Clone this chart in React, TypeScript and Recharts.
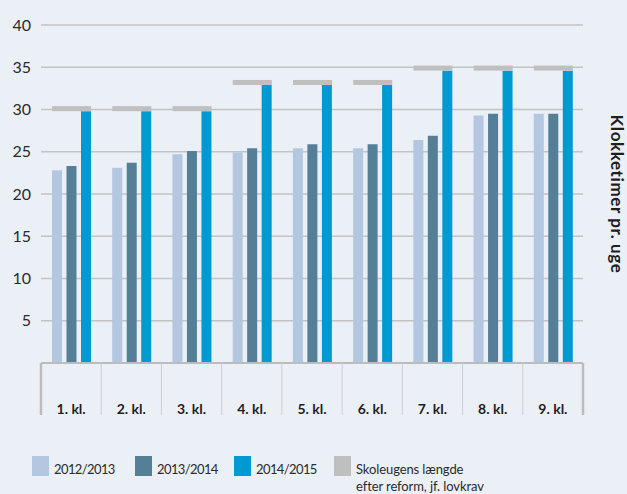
import React from 'react';
import { ComposedChart, Bar, Line, XAxis, YAxis, CartesianGrid } from 'recharts';

const categories = ['1. kl.', '2. kl.', '3. kl.', '4. kl.', '5. kl.', '6. kl.', '7. kl.', '8. kl.', '9. kl.'];
const s2012 = [22.8, 23.1, 24.7, 24.9, 25.4, 25.4, 26.4, 29.3, 29.5];
const s2013 = [23.3, 23.7, 25.1, 25.4, 25.9, 25.9, 26.9, 29.5, 29.5];
const s2014 = [29.8, 29.8, 29.8, 32.9, 32.9, 32.9, 34.6, 34.6, 34.6];
const krav = [30.1, 30.1, 30.1, 33.2, 33.2, 33.2, 34.9, 34.9, 34.9];
const yTicks = [5, 10, 15, 20, 25, 30, 35, 40];

const legendItems = [
  { label: '2012/2013', color: '#b3c7e1' },
  { label: '2013/2014', color: '#547f97' },
  { label: '2014/2015', color: '#009ad3' },
  { label: 'Skoleugens længde\nefter reform, jf. lovkrav', color: '#bfbfbf' },
];

const data = categories.map((name, i) => ({
  name,
  a: s2012[i],
  b: s2013[i],
  c: s2014[i],
  krav: krav[i],
}));

const W = 627;
const H = 420;
const margin = { top: 25, right: 44, bottom: 5, left: 0 };
const yAxisW = 41;
const bw = (W - margin.left - margin.right - yAxisW) / categories.length;
const font = 'Lato, "Open Sans", sans-serif';

const XTick = (props: any) => {
  const { x, y, payload, index } = props;
  const left = x - bw / 2;
  const edge = index === 0;
  return (
    <g>
      <line x1={left} x2={left} y1={y} y2={y + 52} stroke={edge ? '#bcbcbc' : '#cdcdcd'} strokeWidth={edge ? 2.5 : 1} />
      {index === categories.length - 1 && (
        <line x1={x + bw / 2} x2={x + bw / 2} y1={y} y2={y + 52} stroke="#bcbcbc" strokeWidth={2.5} />
      )}
      <text x={x} y={y + 51} textAnchor="middle" fill="#1e1e1e" fontSize={14} fontWeight={700} fontFamily={font}>
        {payload.value}
      </text>
    </g>
  );
};

const KravMark = (p: any) => {
  if (p.cx == null || p.cy == null) return null;
  return <rect key={p.index} x={p.cx - 19} y={p.cy - 2.5} width={39} height={5} fill="#bfbfbf" />;
};

export default function App() {
  return (
    <div
      style={{
        position: 'absolute',
        top: 0,
        left: 0,
        width: W,
        height: 494,
        background: '#ebf0f7',
        overflow: 'hidden',
        fontFamily: font,
      }}
    >
      <ComposedChart width={W} height={H} data={data} margin={margin} barSize={10} barGap={4.5}>
        <CartesianGrid vertical={false} stroke="#c3c3c3" strokeWidth={1.5} />
        <XAxis
          dataKey="name"
          height={52}
          axisLine={{ stroke: '#bcbcbc', strokeWidth: 2 }}
          tickLine={false}
          tickSize={0}
          tickMargin={0}
          tick={<XTick />}
          interval={0}
        />
        <YAxis
          width={yAxisW}
          domain={[0, 40]}
          ticks={yTicks}
          axisLine={false}
          tickLine={false}
          tickSize={0}
          tickMargin={10}
          tick={{ fill: '#2a2a2a', fontSize: 16, fontFamily: font }}
        />
        <Bar dataKey="a" fill="#b3c7e1" isAnimationActive={false} />
        <Bar dataKey="b" fill="#547f97" isAnimationActive={false} />
        <Bar dataKey="c" fill="#009ad3" isAnimationActive={false} />
        <Line dataKey="krav" stroke="none" dot={KravMark} activeDot={false} legendType="none" isAnimationActive={false} />
      </ComposedChart>

      <div
        style={{
          position: 'absolute',
          left: 617,
          top: 194,
          transform: 'translate(-50%, -50%)',
          writingMode: 'vertical-rl',
          fontSize: 17,
          lineHeight: '17px',
          fontWeight: 700,
          letterSpacing: 0.6,
          color: '#1e1e1e',
          whiteSpace: 'nowrap',
        }}
      >
        Klokketimer pr. uge
      </div>

      {legendItems.map((item, i) => {
        const lefts = [32, 135, 234, 334];
        return (
          <div key={item.label} style={{ position: 'absolute', left: lefts[i], top: 456 }}>
            <div style={{ position: 'absolute', left: 0, top: 0, width: 17, height: 20, background: item.color }} />
            <div
              style={{
                position: 'absolute',
                left: 22,
                top: 5,
                fontSize: 13,
                lineHeight: '17px',
                letterSpacing: i < 3 ? -0.6 : -0.1,
                color: '#2a2a2a',
                whiteSpace: 'pre',
              }}
            >
              {item.label}
            </div>
          </div>
        );
      })}
    </div>
  );
}
